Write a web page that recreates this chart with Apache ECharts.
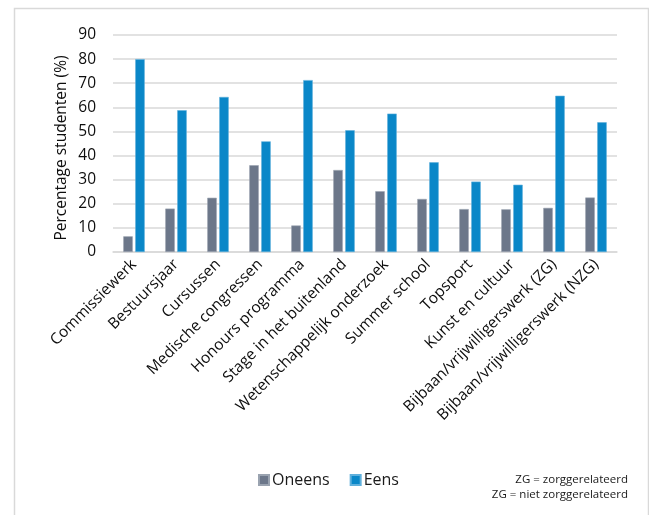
<!DOCTYPE html>
<html>
<head>
<meta charset="utf-8">
<script src="https://cdn.jsdelivr.net/npm/echarts@6/dist/echarts.min.js"></script>
<style>html,body{margin:0;padding:0;background:#fff}#c{width:649px;height:515px}</style>
</head>
<body>
<div id="c"></div>
<script>
const categories = ['Commissiewerk','Bestuursjaar','Cursussen','Medische congressen','Honours programma','Stage in het buitenland','Wetenschappelijk onderzoek','Summer school','Topsport','Kunst en cultuur','Bijbaan/vrijwilligerswerk (ZG)','Bijbaan/vrijwilligerswerk (NZG)'];
const oneens = [6.5, 18, 22.5, 36, 11, 34, 25.2, 22, 17.8, 17.7, 18.3, 22.6];
const eens = [80, 58.8, 64.3, 45.9, 71.3, 50.5, 57.4, 37.2, 29.2, 27.9, 64.8, 53.8];
const yTicks = [0,10,20,30,40,50,60,70,80,90];
const seriesNames = ['Oneens','Eens'];
const yTitle = 'Percentage studenten (%)';
const notes = ['ZG = zorggerelateerd','ZG = niet zorggerelateerd'];

const FONT = '"Open Sans", Lato, sans-serif';
const chart = echarts.init(document.getElementById('c'), null, {renderer:'canvas'});
chart.setOption({
  animation:false,
  backgroundColor:'#fff',
  textStyle:{fontFamily:FONT},
  grid:{left:113, right:32, top:35, bottom:263, containLabel:false},
  legend:{
    data:seriesNames, left:253, top:467, itemWidth:10, itemHeight:10, itemGap:20,
    icon:'rect',
    textStyle:{fontFamily:FONT, fontSize:16, color:'#1a1a1a', padding:[0,0,0,-2]}
  },
  xAxis:{
    type:'category', data:categories,
    axisLine:{show:true, lineStyle:{color:'#d9d9d9', width:1.5}},
    axisTick:{show:false},
    axisLabel:{interval:0, rotate:45, fontSize:15.5, color:'#0d0d0d', fontFamily:FONT, margin:10}
  },
  yAxis:{
    type:'value', min:yTicks[0], max:yTicks[yTicks.length-1], interval:10,
    axisLine:{show:false}, axisTick:{show:false},
    axisLabel:{fontSize:15.5, color:'#0d0d0d', margin:17, fontFamily:FONT},
    splitLine:{lineStyle:{color:'#d9d9d9', width:1.5}}
  },
  series:[
    {name:seriesNames[0], type:'bar', data:oneens, barWidth:9.5, barGap:'26%',
     itemStyle:{color:'#6c778a', borderColor:'#9aa3b0', borderWidth:0.6}},
    {name:seriesNames[1], type:'bar', data:eens, barWidth:9.5,
     itemStyle:{color:'#0a87c8', borderColor:'#5fb0dc', borderWidth:0.6}}
  ],
  graphic:[
    {type:'rect', left:12, top:6, shape:{x:0,y:0,width:634,height:520}, silent:true,
     style:{fill:'none', stroke:'#d9d9d9', lineWidth:1.5}},
    {type:'text', x:62, y:148, rotation:Math.PI/2,
     style:{text:yTitle, font:'15.5px '+FONT, fill:'#0d0d0d', textAlign:'center', textVerticalAlign:'middle'}},
    {type:'text', right:21, top:474, style:{text:notes[0], font:'11.5px '+FONT, fill:'#1a1a1a', textAlign:'right'}},
    {type:'text', right:21, top:489, style:{text:notes[1], font:'11.5px '+FONT, fill:'#1a1a1a', textAlign:'right'}}
  ]
});
</script>
</body>
</html>
